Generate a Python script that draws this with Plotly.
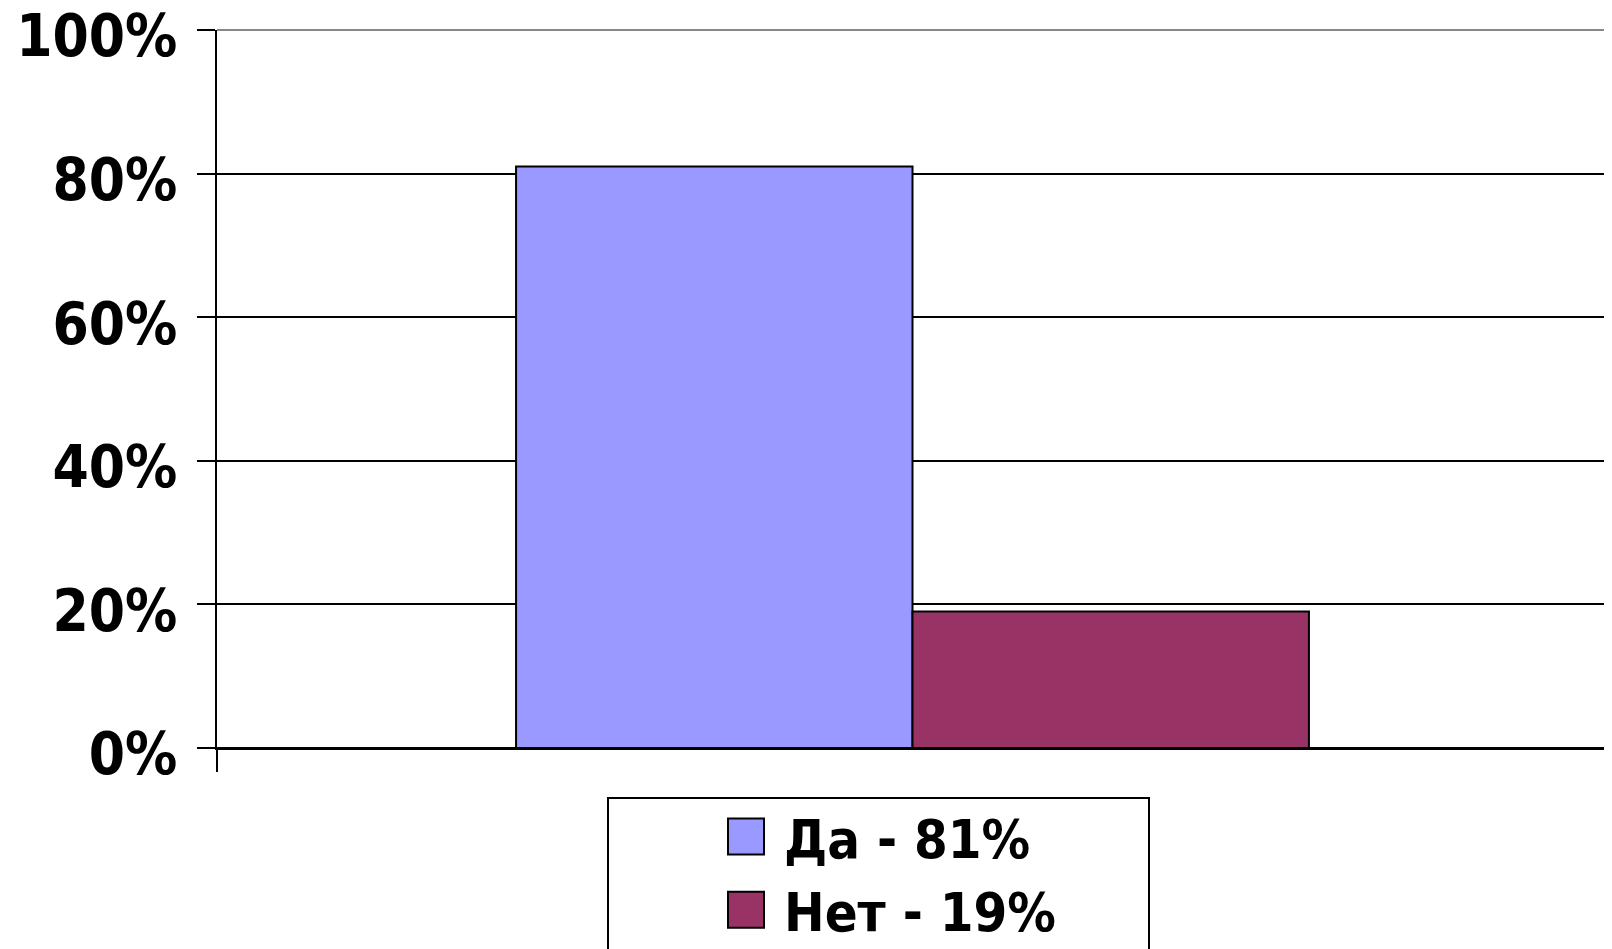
import plotly.graph_objects as go

# ---- data ----
category = ["Ответ"]
series_names = ["Да - 81%", "Нет - 19%"]
series_values = [0.81, 0.19]
series_colors = ["#9999FF", "#993366"]
y_ticks = [0, 0.2, 0.4, 0.6, 0.8, 1.0]
y_tick_labels = ["0%", "20%", "40%", "60%", "80%", "100%"]

FONT = "DejaVu Sans Condensed, DejaVu Sans, sans-serif"

fig = go.Figure()
for name, val, col in zip(series_names, series_values, series_colors):
    fig.add_trace(go.Bar(
        x=category, y=[val], name=name,
        marker=dict(color=col, line=dict(color="black", width=2)),
    ))

# the page body has an 8px margin, so the figure starts at (8, 8)
OFF = 8
W, H = 1612 - OFF, 949 - OFF
L, R, T, B = 217 - OFF, 4, 30 - OFF, 201
pw = W - L - R
ph = H - T - B

def px_x(p):  # page pixel -> paper x
    return (p - OFF - L) / pw

def px_y(p):  # page pixel -> paper y
    return (H - B - (p - OFF)) / ph

fig.update_layout(
    width=W, height=H,
    margin=dict(l=L, r=R, t=T, b=B, autoexpand=False),
    paper_bgcolor="white", plot_bgcolor="white",
    barmode="group", bargap=0.43, bargroupgap=0,
    font=dict(family=FONT, color="black"),
    showlegend=True,
    legend=dict(
        x=px_x(708), y=px_y(795), xanchor="left", yanchor="top",
        font=dict(family=FONT, size=54, color="black", weight="bold"),
        borderwidth=0, bgcolor="rgba(0,0,0,0)",
        traceorder="normal", itemwidth=66,
    ),
    xaxis=dict(
        showticklabels=False, showgrid=False, zeroline=False,
        showline=True, linecolor="black", linewidth=2,
        ticks="outside", tickson="boundaries", ticklen=22,
        tickcolor="black", tickwidth=2,
    ),
    yaxis=dict(
        range=[0, 1], tickvals=y_ticks, ticktext=y_tick_labels,
        showgrid=True, gridcolor="black", gridwidth=2,
        zeroline=True, zerolinecolor="black", zerolinewidth=2,
        showline=True, linecolor="black", linewidth=2,
        ticks="outside", ticklen=18, tickcolor="black", tickwidth=2,
        ticklabelstandoff=8, ticklabelshift=6,
        ticklabeloverflow="allow", automargin=False,
        tickfont=dict(family=FONT, size=58, color="black", weight="bold"),
    ),
    shapes=[
        # gray top and right borders of the plot area
        dict(type="line", xref="paper", yref="paper", x0=0, x1=1, y0=1, y1=1,
             line=dict(color="#888888", width=2), layer="above"),
        dict(type="line", xref="paper", yref="paper", x0=1, x1=1, y0=0, y1=1,
             line=dict(color="#888888", width=2), layer="above"),
        # legend frame
        dict(type="rect", xref="paper", yref="paper",
             x0=px_x(608), x1=px_x(1149), y0=px_y(798), y1=px_y(965),
             line=dict(color="black", width=2), fillcolor="rgba(0,0,0,0)"),
    ],
)

# enlarge the legend swatches to match the reference's big squares
post = """
function bigSwatches() {
  var gd = document.getElementById('{plot_id}');
  if (!gd) return;
  gd.querySelectorAll('g.legendpoints path').forEach(function(p){
    p.setAttribute('d', 'M18,18H-18V-18H18Z');
  });
}
bigSwatches();
setTimeout(bigSwatches, 50);
setTimeout(bigSwatches, 300);
"""

fig.write_html("out.html", post_script=post)
